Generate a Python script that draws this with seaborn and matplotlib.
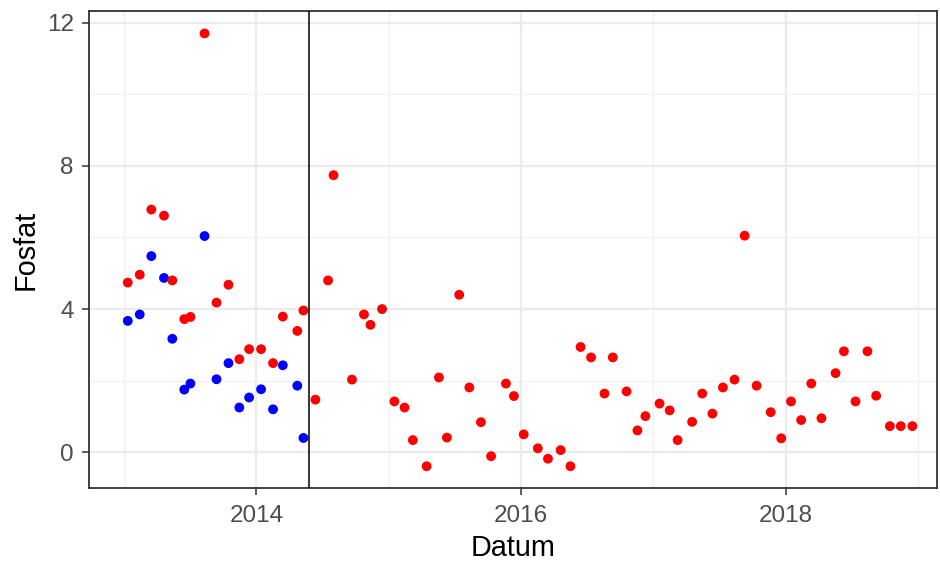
import matplotlib
matplotlib.use("Agg")
import matplotlib.pyplot as plt
import matplotlib.dates as mdates
import seaborn as sns
import pandas as pd

# shared sampling dates (both series), up to the change point
dates_early = ["2013-01-11", "2013-02-13", "2013-03-17", "2013-04-21", "2013-05-14",
               "2013-06-16", "2013-07-03", "2013-08-11", "2013-09-13", "2013-10-16",
               "2013-11-15", "2013-12-12", "2014-01-14", "2014-02-16", "2014-03-15",
               "2014-04-24", "2014-05-11"]
blue_values = [3.67, 3.85, 5.48, 4.87, 3.17, 1.75, 1.92, 6.04, 2.04, 2.49,
               1.25, 1.53, 1.76, 1.20, 2.43, 1.86, 0.40]
red_early = [4.74, 4.96, 6.78, 6.61, 4.80, 3.72, 3.78, 11.70, 4.18, 4.68,
             2.60, 2.88, 2.88, 2.49, 3.79, 3.39, 3.96]

dates_late = ["2014-06-13", "2014-07-18", "2014-08-02", "2014-09-22", "2014-10-25",
              "2014-11-12", "2014-12-14", "2015-01-17", "2015-02-14", "2015-03-09",
              "2015-04-16", "2015-05-20", "2015-06-11", "2015-07-15", "2015-08-12",
              "2015-09-13", "2015-10-11", "2015-11-21", "2015-12-13", "2016-01-09",
              "2016-02-17", "2016-03-16", "2016-04-20", "2016-05-17", "2016-06-14",
              "2016-07-13", "2016-08-19", "2016-09-11", "2016-10-19", "2016-11-18",
              "2016-12-10", "2017-01-18", "2017-02-15", "2017-03-09", "2017-04-18",
              "2017-05-16", "2017-06-13", "2017-07-12", "2017-08-13", "2017-09-10",
              "2017-10-13", "2017-11-21", "2017-12-20", "2018-01-16", "2018-02-13",
              "2018-03-13", "2018-04-10", "2018-05-19", "2018-06-11", "2018-07-13",
              "2018-08-15", "2018-09-08", "2018-10-16", "2018-11-15", "2018-12-17"]
red_late = [1.47, 4.80, 7.74, 2.03, 3.85, 3.56, 4.00, 1.42, 1.25, 0.34,
            -0.39, 2.09, 0.41, 4.40, 1.81, 0.84, -0.11, 1.92, 1.57, 0.50,
            0.11, -0.18, 0.06, -0.39, 2.94, 2.65, 1.64, 2.65, 1.70, 0.61,
            1.01, 1.36, 1.17, 0.34, 0.85, 1.64, 1.08, 1.81, 2.03, 6.05,
            1.86, 1.12, 0.39, 1.42, 0.90, 1.92, 0.95, 2.21, 2.82, 1.42,
            2.82, 1.58, 0.73, 0.73, 0.73]

change_date = "2014-05-27"
y_ticks = [0, 4, 8, 12]
x_tick_years = [2014, 2016, 2018]

df = pd.concat([
    pd.DataFrame({"Datum": pd.to_datetime(dates_early), "Fosfat": blue_values, "serie": "blue"}),
    pd.DataFrame({"Datum": pd.to_datetime(dates_early + dates_late),
                  "Fosfat": red_early + red_late, "serie": "red"}),
], ignore_index=True)

sns.set_theme(style="white")
plt.rcParams["font.family"] = ["Liberation Sans", "DejaVu Sans"]

fig = plt.figure(figsize=(9.4, 5.61), dpi=100)
ax = fig.add_axes([0.0947, 0.130, 0.9021, 0.850])

# grid
for yr in [2013, 2015, 2017, 2019]:
    ax.axvline(pd.Timestamp(f"{yr}-01-01"), color="#F0F0F0", lw=1.0, zorder=0)
for yr in x_tick_years:
    ax.axvline(pd.Timestamp(f"{yr}-01-01"), color="#EBEBEB", lw=1.6, zorder=0)
for v in [2, 6, 10]:
    ax.axhline(v, color="#F0F0F0", lw=1.0, zorder=0)
for v in y_ticks:
    ax.axhline(v, color="#EBEBEB", lw=1.6, zorder=0)

sns.scatterplot(data=df, x="Datum", y="Fosfat", hue="serie",
                palette={"blue": "#0000FF", "red": "#FF0000"},
                s=50, linewidth=0, legend=False, ax=ax, zorder=3)

ax.axvline(pd.Timestamp(change_date), color="black", lw=1.1, zorder=4)

ax.set_xlim(pd.Timestamp("2012-09-26"), pd.Timestamp("2019-02-23"))
ax.set_ylim(-1.0, 12.32)
ax.set_yticks(y_ticks)
ax.set_xticks([pd.Timestamp(f"{y}-01-01") for y in x_tick_years])
ax.xaxis.set_major_formatter(mdates.DateFormatter("%Y"))

for sp in ax.spines.values():
    sp.set_color("#333333")
    sp.set_linewidth(1.3)
ax.tick_params(axis="both", which="major", length=5, width=1.1, color="#333333",
               labelsize=17.5, labelcolor="#4D4D4D", direction="out")
ax.tick_params(axis="x", pad=7.5)
ax.tick_params(axis="y", pad=6)
ax.tick_params(left=True, bottom=True)
ax.set_xlabel("Datum", fontsize=20.8, color="black", labelpad=5)
ax.set_ylabel("Fosfat", fontsize=20.8, color="black", labelpad=5)

fig.savefig("out.png", dpi=100)
